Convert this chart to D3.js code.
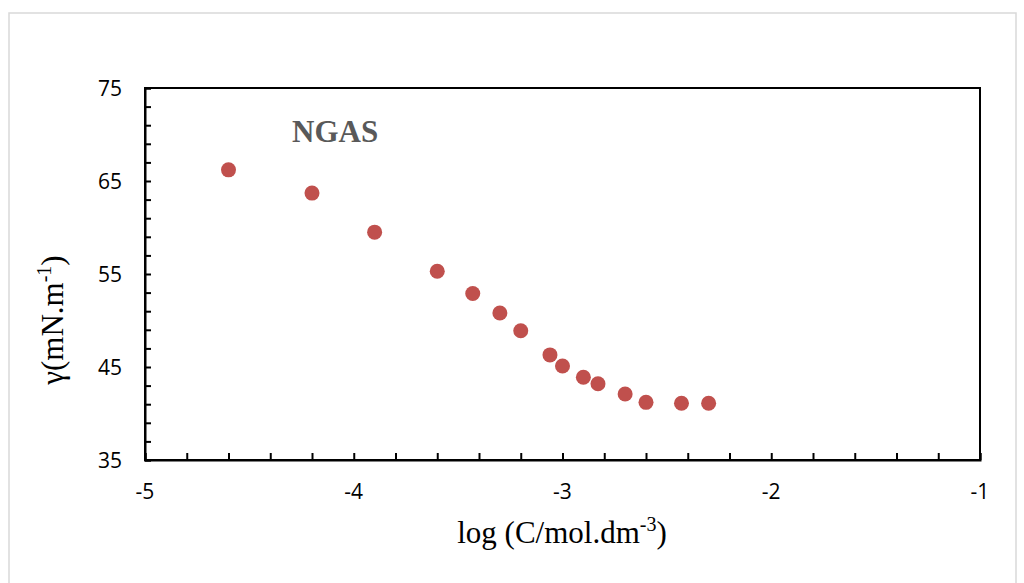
<!DOCTYPE html>
<html>
<head>
<meta charset="utf-8">
<script src="https://cdn.jsdelivr.net/npm/d3@7/dist/d3.min.js"></script>
<style>
  html, body { margin: 0; padding: 0; background: #fff; }
  svg { display: block; }
</style>
</head>
<body>
<svg id="chart" width="1024" height="583"></svg>
<script>
// Data
const logC = [-4.60, -4.20, -3.90, -3.60, -3.43, -3.30, -3.20, -3.06, -3.00, -2.90, -2.83, -2.70, -2.60, -2.43, -2.30];
const gamma = [66.2, 63.7, 59.5, 55.3, 52.9, 50.8, 48.9, 46.3, 45.1, 43.9, 43.2, 42.1, 41.2, 41.1, 41.1];
const xTickLabels = [-5, -4, -3, -2, -1];
const yTickLabels = [35, 45, 55, 65, 75];
const seriesName = "NGAS";

const svg = d3.select("#chart");
const m = { left: 145, right: 980, top: 88, bottom: 460 };

// outer chart border
svg.append("rect")
  .attr("x", 9).attr("y", 13)
  .attr("width", 1007).attr("height", 580)
  .attr("fill", "#fff")
  .attr("stroke", "#d9d9d9").attr("stroke-width", 1.5);

const x = d3.scaleLinear().domain([-5, -1]).range([m.left, m.right]);
const y = d3.scaleLinear().domain([35, 75]).range([m.bottom, m.top]);

// Plot frame
svg.append("rect")
  .attr("x", m.left).attr("y", m.top)
  .attr("width", m.right - m.left).attr("height", m.bottom - m.top)
  .attr("fill", "none").attr("stroke", "#000").attr("stroke-width", 2);

// X axis with inward minor ticks
const xMinor = d3.range(-5, -0.999, 0.2).map(v => +v.toFixed(1));
const xAxis = d3.axisBottom(x).tickValues(xMinor).tickSize(-7).tickFormat("");
const gx = svg.append("g").attr("transform", `translate(0,${m.bottom})`).call(xAxis);
gx.select(".domain").attr("stroke", "#000").attr("stroke-width", 2);
gx.selectAll(".tick line").attr("stroke", "#000").attr("stroke-width", 2);

svg.append("g").selectAll("text").data(xTickLabels).join("text")
  .attr("x", d => x(d)).attr("y", 499)
  .attr("text-anchor", "middle")
  .attr("font-family", "'Open Sans', 'Noto Sans', sans-serif")
  .attr("font-size", 21).attr("fill", "#000")
  .text(d => d);

// Y axis with inward minor ticks
const yMinor = d3.range(35, 75.001, 2);
const yAxis = d3.axisLeft(y).tickValues(yMinor).tickSize(-6).tickFormat("");
const gy = svg.append("g").attr("transform", `translate(${m.left},0)`).call(yAxis);
gy.select(".domain").attr("stroke", "#000").attr("stroke-width", 2);
gy.selectAll(".tick line").attr("stroke", "#000").attr("stroke-width", 2);

svg.append("g").selectAll("text").data(yTickLabels).join("text")
  .attr("x", 122).attr("y", d => y(d))
  .attr("dy", "0.36em")
  .attr("text-anchor", "end")
  .attr("font-family", "'Open Sans', 'Noto Sans', sans-serif")
  .attr("font-size", 21).attr("fill", "#000")
  .text(d => d);

// Points
svg.append("g").selectAll("circle").data(logC.map((v, i) => [v, gamma[i]])).join("circle")
  .attr("cx", d => x(d[0])).attr("cy", d => y(d[1]))
  .attr("r", 7.5)
  .attr("fill", "#C0504D");

// Series annotation
svg.append("text")
  .attr("x", 292).attr("y", 142)
  .attr("font-family", "'Liberation Serif', 'Times New Roman', serif")
  .attr("font-weight", "bold").attr("font-size", 31)
  .attr("fill", "#595959")
  .text(seriesName);

// X axis title
const xt = svg.append("text")
  .attr("x", 562).attr("y", 543)
  .attr("text-anchor", "middle")
  .attr("font-family", "'Liberation Serif', 'Times New Roman', serif")
  .attr("font-size", 31).attr("fill", "#000");
xt.append("tspan").text("log (C/mol.dm");
xt.append("tspan").attr("dy", -12).attr("font-size", 20).text("-3");
xt.append("tspan").attr("dy", 12).text(")");

// Y axis title
const yt = svg.append("text")
  .attr("transform", `translate(63,320) rotate(-90)`)
  .attr("text-anchor", "middle")
  .attr("font-family", "'Liberation Serif', 'Times New Roman', serif")
  .attr("font-size", 31).attr("fill", "#000");
yt.append("tspan").text("γ(mN.m");
yt.append("tspan").attr("dy", -12).attr("font-size", 20).text("-1");
yt.append("tspan").attr("dy", 12).text(")");
</script>
</body>
</html>
